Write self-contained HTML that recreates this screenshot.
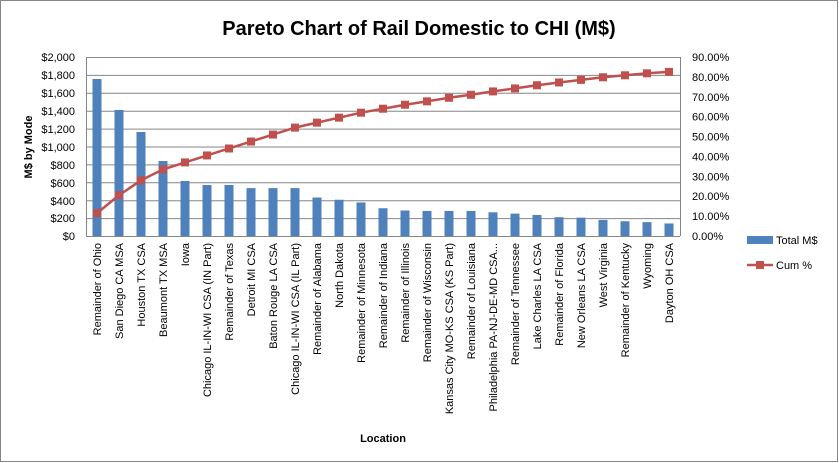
<!DOCTYPE html>
<html><head><meta charset="utf-8"><style>
html,body{margin:0;padding:0;background:#fff;}
svg{display:block;font-family:"Liberation Sans",sans-serif;}
</style></head><body>
<svg width="839" height="463" xmlns="http://www.w3.org/2000/svg">
<rect x="0.5" y="0.5" width="837" height="461" fill="#fff" stroke="#868686"/>
<text x="419" y="35" text-anchor="middle" font-size="20" font-weight="bold" fill="#000">Pareto Chart of Rail Domestic to CHI (M$)</text>
<g stroke="#868686" stroke-width="1">
<line x1="86" y1="57.5" x2="680" y2="57.5"/>
<line x1="86" y1="75.4" x2="680" y2="75.4"/>
<line x1="86" y1="93.3" x2="680" y2="93.3"/>
<line x1="86" y1="111.2" x2="680" y2="111.2"/>
<line x1="86" y1="129.1" x2="680" y2="129.1"/>
<line x1="86" y1="147" x2="680" y2="147"/>
<line x1="86" y1="164.9" x2="680" y2="164.9"/>
<line x1="86" y1="182.8" x2="680" y2="182.8"/>
<line x1="86" y1="200.7" x2="680" y2="200.7"/>
<line x1="86" y1="218.6" x2="680" y2="218.6"/>
<line x1="86.5" y1="57" x2="86.5" y2="236"/>
<line x1="680.5" y1="57" x2="680.5" y2="236"/>
<line x1="86" y1="236.5" x2="680" y2="236.5"/>
</g>
<g font-size="11" fill="#000" text-anchor="end">
<text x="75" y="61">$2,000</text><text x="75" y="79">$1,800</text><text x="75" y="97">$1,600</text><text x="75" y="115">$1,400</text><text x="75" y="133">$1,200</text><text x="75" y="151">$1,000</text><text x="75" y="169">$800</text><text x="75" y="187">$600</text><text x="75" y="205">$400</text><text x="75" y="222">$200</text><text x="75" y="240">$0</text>
</g>
<g font-size="11" fill="#000" id="rlab"></g>
<text transform="translate(32,147) rotate(-90)" text-anchor="middle" font-size="11" font-weight="bold">M$ by Mode</text>
<text x="383" y="442" text-anchor="middle" font-size="11" font-weight="bold">Location</text>
<g fill="#4f81bd" id="bars"></g>
<g id="labels" font-size="11" fill="#000"></g>
<g id="line"></g>
<rect x="747" y="236" width="26" height="8" fill="#4f81bd"/>
<text x="776" y="244" font-size="11">Total M$</text>
<line x1="747" y1="265" x2="773" y2="265" stroke="#c0504d" stroke-width="2.5"/>
<rect x="756" y="261" width="8" height="8" fill="#c0504d"/>
<text x="776" y="269" font-size="11">Cum %</text>
<script>
var names=["Remainder of Ohio","San Diego  CA MSA","Houston  TX CSA","Beaumont  TX MSA","Iowa","Chicago  IL-IN-WI CSA (IN Part)","Remainder of Texas","Detroit  MI CSA","Baton Rouge  LA CSA","Chicago  IL-IN-WI CSA (IL Part)","Remainder of Alabama","North Dakota","Remainder of Minnesota","Remainder of Indiana","Remainder of Illinois","Remainder of Wisconsin","Kansas City  MO-KS CSA (KS Part)","Remainder of Louisiana","Philadelphia  PA-NJ-DE-MD CSA...","Remainder of Tennessee","Lake Charles  LA CSA","Remainder of Florida","New Orleans  LA CSA","West Virginia","Remainder of Kentucky","Wyoming","Dayton  OH CSA"];
var vals=[1754,1408,1162,838,615,570,570,535,535,535,430,405,375,310,285,280,280,280,265,250,235,210,205,180,165,155,140];
var cum=[11.5,20.5,28,33.5,37,40.5,44,47.5,51,54.5,57,59.5,62,64,66,67.7,69.5,71,72.7,74.2,75.8,77.2,78.5,79.8,80.8,81.8,82.5];
var NS="http://www.w3.org/2000/svg";
var rl=document.getElementById("rlab");
for(var k=0;k<=9;k++){var t=document.createElementNS(NS,"text");t.setAttribute("x",692);t.setAttribute("y",(236-k*179/9+4).toFixed(1));t.textContent=(k*10)+".00%";rl.appendChild(t);}
var bars=document.getElementById("bars"),labs=document.getElementById("labels"),ln=document.getElementById("line");
var pts=[];
for(var i=0;i<27;i++){
 var cx=86+22*i+11;
 var h=vals[i]*179/2000;
 var r=document.createElementNS(NS,"rect");
 r.setAttribute("x",cx-4.5);r.setAttribute("y",236-h);r.setAttribute("width",9);r.setAttribute("height",h);
 bars.appendChild(r);
 var t=document.createElementNS(NS,"text");
 t.setAttribute("transform","translate("+(cx+4)+",243) rotate(-90)");
 t.setAttribute("text-anchor","end");
 t.textContent=names[i];labs.appendChild(t);
 pts.push([cx,236-cum[i]*179/90]);
}
var p=document.createElementNS(NS,"polyline");
p.setAttribute("points",pts.map(function(a){return a.join(",")}).join(" "));
p.setAttribute("fill","none");p.setAttribute("stroke","#c0504d");p.setAttribute("stroke-width","2.5");
ln.appendChild(p);
pts.forEach(function(a){var s=document.createElementNS(NS,"rect");s.setAttribute("x",a[0]-4);s.setAttribute("y",a[1]-4);s.setAttribute("width",8);s.setAttribute("height",8);s.setAttribute("fill","#c0504d");ln.appendChild(s);});
</script>
</svg>
</body></html>
